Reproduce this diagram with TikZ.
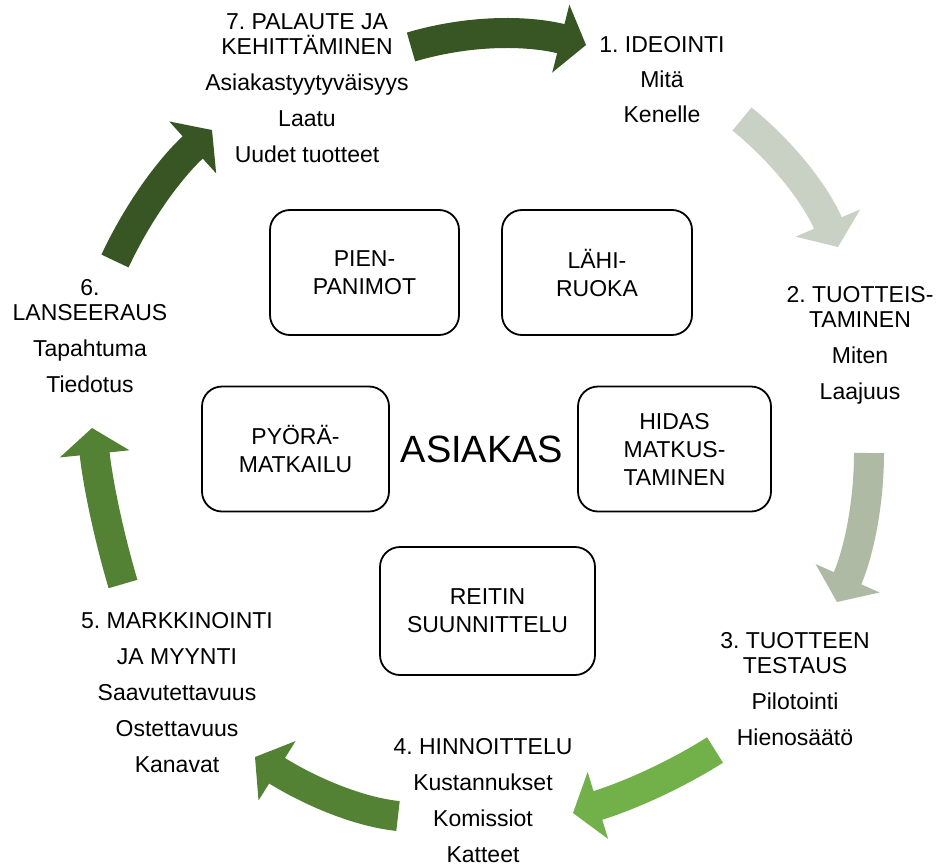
\documentclass[tikz,border=0pt]{standalone}
\usepackage{fontspec}
\setmainfont{Liberation Sans}
\usetikzlibrary{calc}
\frenchspacing
\definecolor{cDark}{HTML}{375623}
\definecolor{cMid}{HTML}{548235}
\definecolor{cBright}{HTML}{72B04A}
\definecolor{cPale}{HTML}{C9D0C4}
\definecolor{cGrey}{HTML}{AEBAA4}
\newcommand{\cycarrow}[4]{%
  \path ($(#3)!0.667!(#2)$) coordinate (tmpq);
  \path ($(#3)!26pt!(tmpq)$) coordinate (tmpb);
  \draw[shaft,#4,shorten >=24pt] (#1) .. controls ($(#1)!0.667!(#2)$) and (tmpq) .. (#3);
  \fill[#4] (#3) -- ($(tmpb)!35pt!90:(#3)$) -- ($(tmpb)!35pt!-90:(#3)$) -- cycle;
}
\begin{document}
\begin{tikzpicture}[x=1pt,y=-1pt,
  shaft/.style={line width=30pt,line cap=butt},
  lbl/.style={font=\fontsize{23}{25}\selectfont\frenchspacing,align=center,anchor=north,inner sep=0pt},
  box/.style={draw,line width=1.8pt,rounded corners=20pt,font=\fontsize{23}{28}\selectfont,align=center,inner sep=0pt,minimum height=125pt}]
\fill[white] (0,0) rectangle (939,867);
\useasboundingbox (0,0) rectangle (939,867);

% boxes
\node[box,minimum width=189pt] (pien) at (364.5,272.5) {PIEN-\\PANIMOT};
\node[box,minimum width=190pt] (lahi) at (597,272.5) {LÄHI-\\RUOKA};
\node[box,minimum width=187pt] (pyora) at (295.5,449) {PYÖRÄ-\\MATKAILU};
\node[box,minimum width=193pt] (hidas) at (674.5,449) {HIDAS\\MATKUS-\\TAMINEN};
\node[box,minimum width=215pt,minimum height=128pt] (reitin) at (487.5,611) {REITIN\\SUUNNITTELU};
\node[inner sep=0pt,font=\fontsize{38}{40}\selectfont] (asiakas) at (482,449) {ASIAKAS};

% labels
\node[lbl] (g7) at (307,13.5) {7. PALAUTE JA\\KEHITTÄMINEN\\[11pt]Asiakastyytyväisyys\\[11pt]Laatu\\[11pt]Uudet tuotteet};
\node[lbl] (g1) at (662,36.5) {1. IDEOINTI\\[10pt]Mitä\\[10pt]Kenelle};
\node[lbl] (g2) at (860,286.5) {2. TUOTTEIS-\\TAMINEN\\[11pt]Miten\\[11pt]Laajuus};
\node[lbl] (g3) at (795,632.5) {3. TUOTTEEN\\TESTAUS\\[11pt]Pilotointi\\[11pt]Hienosäätö};
\node[lbl] (g4) at (483,738.5) {4. HINNOITTELU\\[11pt]Kustannukset\\[11pt]Komissiot\\[11pt]Katteet};
\node[lbl] (g5) at (177,612.5) {5. MARKKINOINTI\\[11pt]JA MYYNTI\\[11pt]Saavutettavuus\\[11pt]Ostettavuus\\[11pt]Kanavat};
\node[lbl] (g6) at (90,279.5) {6.\\LANSEERAUS\\[11pt]Tapahtuma\\[11pt]Tiedotus};

% arrow end points
\coordinate (aT) at (411,47);  \coordinate (aC) at (495,22);  \coordinate (aP) at (586,45);
\coordinate (bT) at (742,119); \coordinate (bC) at (806,171); \coordinate (bP) at (838,247);
\coordinate (cT) at (869,453); \coordinate (cC) at (869,530); \coordinate (cP) at (837,602);
\coordinate (dT) at (715,750); \coordinate (dC) at (655,788); \coordinate (dP) at (573,813);
\coordinate (eT) at (398,816); \coordinate (eC) at (340,810); \coordinate (eP) at (255,757);
\coordinate (fT) at (123,584); \coordinate (fC) at (100,506); \coordinate (fP) at (92,428);
\coordinate (gT) at (115,261); \coordinate (gC) at (150,186); \coordinate (gP) at (212,130);

\cycarrow{aT}{aC}{aP}{cDark}
\cycarrow{bT}{bC}{bP}{cPale}
\cycarrow{cT}{cC}{cP}{cGrey}
\cycarrow{dT}{dC}{dP}{cBright}
\cycarrow{eT}{eC}{eP}{cMid}
\cycarrow{fT}{fC}{fP}{cMid}
\cycarrow{gT}{gC}{gP}{cDark}
\end{tikzpicture}
\end{document}
